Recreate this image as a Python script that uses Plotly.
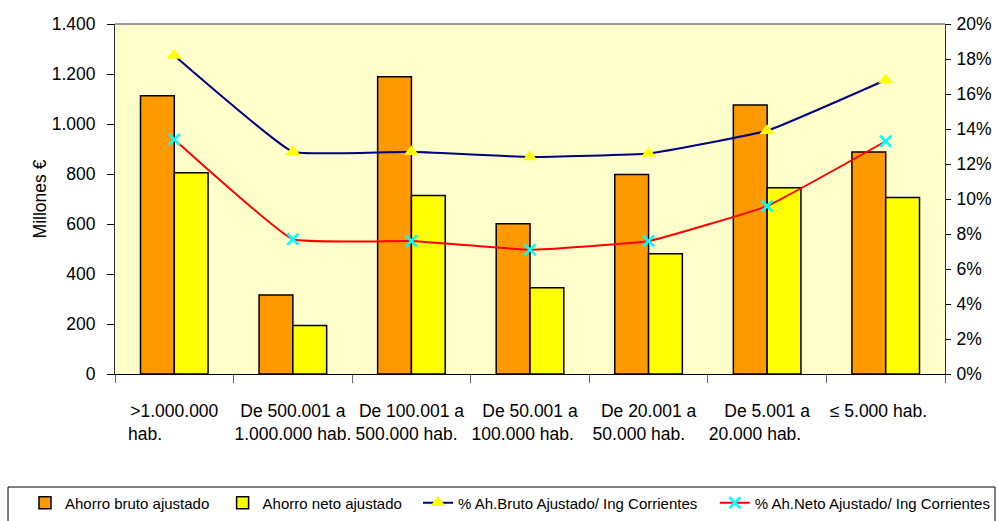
import plotly.graph_objects as go

NB = "\u00a0"

# Municipal savings by population band
categories = [
    ">1.000.000<br>hab." + NB * 12,
    "De 500.001 a<br>1.000.000 hab.",
    "De 100.001 a<br>500.000 hab." + NB * 2,
    "De 50.001 a<br>100.000 hab." + NB * 3,
    "De 20.001 a<br>50.000 hab." + NB * 4,
    "De 5.001 a<br>20.000 hab." + NB * 5,
    "≤ 5.000 hab." + NB * 3 + "<br>" + NB,
]
ahorro_bruto = [1113, 316, 1189, 601, 798, 1076, 888]        # Millones €
ahorro_neto = [805, 194, 714, 345, 481, 745, 706]            # Millones €
pct_bruto = [0.182, 0.127, 0.127, 0.124, 0.126, 0.139, 0.168]
pct_neto = [0.134, 0.077, 0.076, 0.071, 0.076, 0.096, 0.133]

left_ticks = [0, 200, 400, 600, 800, 1000, 1200, 1400]
left_ticktext = ["0", "200", "400", "600", "800", "1.000", "1.200", "1.400"]
right_ticks = [i / 100 for i in range(0, 21, 2)]
right_ticktext = [f"{i}%" for i in range(0, 21, 2)]

FONT = "Liberation Sans, Arial, sans-serif"
LEGEND_Y = (374 - 503) / 350

fig = go.Figure()
fig.add_trace(go.Bar(
    x=categories, y=ahorro_bruto, name="Ahorro bruto ajustado" + NB * 2,
    marker=dict(color="#FF9900", line=dict(color="#000000", width=1.5)),
    legend="legend",
))
fig.add_trace(go.Bar(
    x=categories, y=ahorro_neto, name="Ahorro neto ajustado",
    marker=dict(color="#FFFF00", line=dict(color="#000000", width=1.5)),
    legend="legend",
))
fig.add_trace(go.Scatter(
    x=categories, y=pct_bruto, yaxis="y2", mode="lines+markers",
    name="% Ah.Bruto Ajustado/ Ing Corrientes" + NB * 3,
    line=dict(color="#000080", width=2, shape="spline", smoothing=0.3),
    marker=dict(symbol="triangle-up", size=13, color="#FFFF00"),
    legend="legend2",
))
fig.add_trace(go.Scatter(
    x=categories, y=pct_neto, yaxis="y2", mode="lines+markers",
    name="% Ah.Neto Ajustado/ Ing Corrientes",
    line=dict(color="#FF0000", width=2, shape="spline", smoothing=0.3),
    marker=dict(symbol="x-thin", size=11, color="#00FFFF",
                line=dict(color="#00FFFF", width=2.5)),
    legend="legend2",
))

legend_common = dict(
    orientation="h", xanchor="left", y=LEGEND_Y, yanchor="middle",
    font=dict(family=FONT, size=15),
    bgcolor="rgba(0,0,0,0)", borderwidth=0, traceorder="normal",
)

fig.update_layout(
    width=998, height=521,
    margin=dict(l=115, r=53, t=24, b=147, autoexpand=False),
    paper_bgcolor="#FFFFFF",
    plot_bgcolor="#FFFFCC",
    font=dict(family=FONT, size=17.5, color="#000000"),
    barmode="group", bargap=0.43, bargroupgap=0,
    showlegend=True,
    legend=dict(x=(25 - 115) / 830, **legend_common),
    legend2=dict(x=(418 - 115) / 830, **legend_common),
    xaxis=dict(
        type="category", tickson="boundaries", tickangle=0, automargin=False,
        ticks="outside", ticklen=8, tickcolor="#666666",
        showline=True, linecolor="#000000", linewidth=1,
        showgrid=False, ticklabelstandoff=21,
        tickfont=dict(family=FONT, size=17.5),
    ),
    yaxis=dict(
        range=[0, 1400], tickvals=left_ticks, ticktext=left_ticktext,
        automargin=False,
        ticks="outside", ticklen=7, tickcolor="#000000",
        showline=True, linecolor="#333333", linewidth=1,
        showgrid=False, zeroline=False, ticklabelstandoff=8,
        tickfont=dict(family=FONT, size=17.5),
        title=dict(text="Millones €", font=dict(family=FONT, size=17.5), standoff=0),
    ),
    yaxis2=dict(
        range=[0, 0.20], tickvals=right_ticks, ticktext=right_ticktext,
        overlaying="y", side="right", automargin=False,
        ticks="outside", ticklen=5, tickcolor="#000000",
        showline=True, linecolor="#333333", linewidth=1,
        showgrid=False, zeroline=False, ticklabelstandoff=2,
        tickfont=dict(family=FONT, size=17.5),
    ),
    shapes=[
        # top frame of the plotting area
        dict(type="line", xref="paper", yref="paper", x0=0, x1=1, y0=1, y1=1,
             line=dict(color="#999999", width=2)),
        # legend frame
        dict(type="rect", xref="paper", yref="paper",
             x0=(8 - 115) / 830, x1=(995 - 115) / 830,
             y0=(374 - 530) / 350, y1=(374 - 487) / 350,
             line=dict(color="#000000", width=1), fillcolor="rgba(0,0,0,0)"),
    ],
)

fig.write_html("out.html")
